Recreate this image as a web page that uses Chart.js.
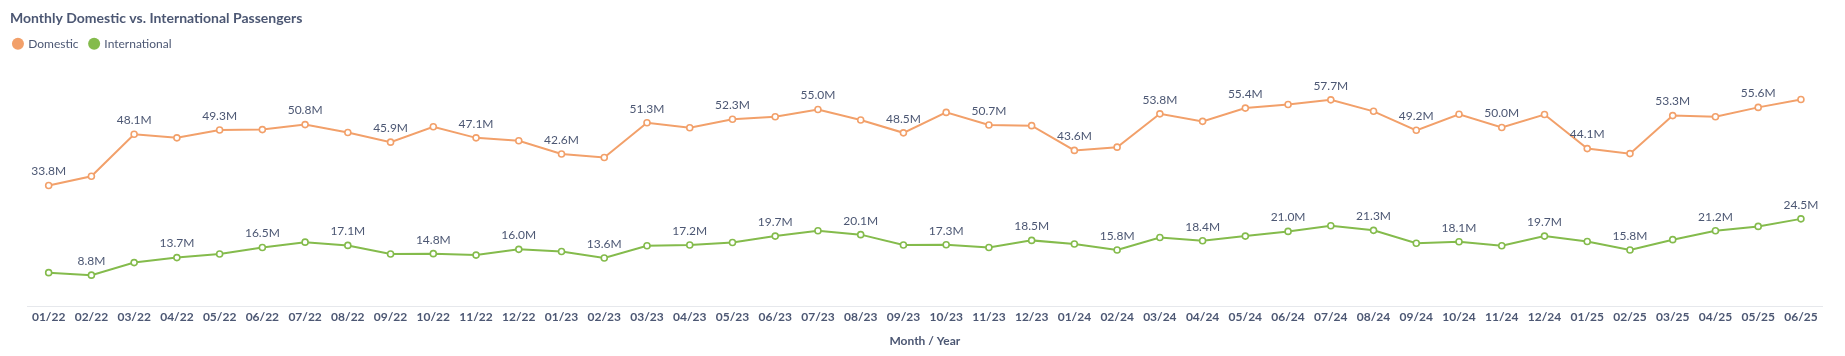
<!DOCTYPE html>
<html>
<head>
<meta charset="utf-8">
<script src="https://cdn.jsdelivr.net/npm/chart.js@4.4.1/dist/chart.umd.min.js"></script>
<style>
  html, body { margin: 0; padding: 0; background: #ffffff; }
  #wrap { position: relative; width: 1845px; height: 356px; }
</style>
</head>
<body>
<div id="wrap"><canvas id="c" width="1845" height="356"></canvas></div>
<script>
const months = ["01/22","02/22","03/22","04/22","05/22","06/22","07/22","08/22","09/22","10/22","11/22","12/22",
  "01/23","02/23","03/23","04/23","05/23","06/23","07/23","08/23","09/23","10/23","11/23","12/23",
  "01/24","02/24","03/24","04/24","05/24","06/24","07/24","08/24","09/24","10/24","11/24","12/24",
  "01/25","02/25","03/25","04/25","05/25","06/25"];

// Passengers in millions
const domestic = [33.8, 36.4, 48.1, 47.1, 49.3, 49.4, 50.8, 48.6, 45.9, 50.2, 47.1, 46.3,
  42.6, 41.6, 51.3, 49.9, 52.3, 53.0, 55.0, 52.1, 48.5, 54.2, 50.7, 50.5,
  43.6, 44.5, 53.8, 51.7, 55.4, 56.4, 57.7, 54.5, 49.2, 53.7, 50.0, 53.6,
  44.1, 42.7, 53.3, 53.0, 55.6, 57.8];

const international = [9.5, 8.8, 12.3, 13.7, 14.7, 16.5, 18.0, 17.1, 14.7, 14.8, 14.4, 16.0,
  15.4, 13.6, 17.0, 17.2, 17.9, 19.7, 21.2, 20.1, 17.2, 17.3, 16.5, 18.5,
  17.5, 15.8, 19.3, 18.4, 19.7, 21.0, 22.6, 21.3, 17.7, 18.1, 17.0, 19.7,
  18.2, 15.8, 18.7, 21.2, 22.4, 24.5];

// Which points carry a value label: domestic on even months, international on odd
const labelParity = [0, 1];

const ORANGE = '#F2A06A';
const GREEN = '#84BB4C';
const TEXT = '#4C5773';
const FONT = 'Lato, "Noto Sans", sans-serif';

const valueLabels = {
  id: 'valueLabels',
  afterDatasetsDraw(chart) {
    const ctx = chart.ctx;
    ctx.save();
    ctx.font = '12px ' + FONT;
    ctx.fillStyle = TEXT;
    ctx.textAlign = 'center';
    ctx.textBaseline = 'middle';
    chart.data.datasets.forEach((ds, di) => {
      const meta = chart.getDatasetMeta(di);
      meta.data.forEach((pt, i) => {
        if (i % 2 !== labelParity[di]) return;
        ctx.fillText(ds.data[i].toFixed(1) + 'M', pt.x, pt.y - 14);
      });
    });
    ctx.restore();
  }
};

const shiftLegend = {
  id: 'shiftLegend',
  afterLayout(chart) {
    if (chart.legend) chart.legend.left -= 7.6;
  }
};

new Chart(document.getElementById('c'), {
  type: 'line',
  data: {
    labels: months,
    datasets: [
      {
        label: 'Domestic',
        data: domestic,
        borderColor: ORANGE,
        backgroundColor: ORANGE,
        borderWidth: 2,
        pointRadius: 3,
        pointBorderWidth: 1.6,
        pointBackgroundColor: '#ffffff',
        pointBorderColor: ORANGE,
        tension: 0
      },
      {
        label: 'International',
        data: international,
        borderColor: GREEN,
        backgroundColor: GREEN,
        borderWidth: 2,
        pointRadius: 3,
        pointBorderWidth: 1.6,
        pointBackgroundColor: '#ffffff',
        pointBorderColor: GREEN,
        tension: 0
      }
    ]
  },
  options: {
    responsive: false,
    animation: false,
    devicePixelRatio: 1,
    layout: { padding: { left: 10, right: 22.7, top: 0, bottom: 8 } },
    plugins: {
      title: {
        display: true,
        text: 'Monthly Domestic vs. International Passengers',
        align: 'start',
        color: TEXT,
        font: { family: FONT, size: 14, weight: 'bold', lineHeight: 1.2 },
        padding: { top: 9.6, bottom: 0 }
      },
      legend: {
        display: true,
        position: 'top',
        align: 'start',
        labels: {
          usePointStyle: true,
          pointStyle: 'circle',
          boxWidth: 8.5,
          boxHeight: 8.5,
          padding: 11.3,
          color: TEXT,
          font: { family: FONT, size: 12 },
          generateLabels(chart) {
            return chart.data.datasets.map((ds, i) => ({
              text: ds.label,
              fillStyle: ds.borderColor,
              strokeStyle: ds.borderColor,
              lineWidth: 0,
              pointStyle: 'circle',
              fontColor: TEXT,
              hidden: false,
              datasetIndex: i
            }));
          }
        }
      },
      tooltip: { enabled: false }
    },
    scales: {
      x: {
        offset: true,
        grid: { display: false, drawTicks: false },
        border: { display: true, color: '#E6E8EC', width: 1 },
        ticks: {
          autoSkip: false,
          maxRotation: 0,
          padding: 3.5,
          color: TEXT,
          font: { family: FONT, size: 12, weight: 'bold' }
        },
        title: {
          display: true,
          text: 'Month / Year',
          color: TEXT,
          font: { family: FONT, size: 12, weight: 'bold' },
          padding: { top: 5.5, bottom: 0 }
        }
      },
      y: {
        display: true,
        min: 0,
        max: 68.9,
        grid: { display: false },
        border: { display: false },
        ticks: { display: false },
        afterFit(scale) { scale.width = 17.3; }
      }
    }
  },
  plugins: [valueLabels, shiftLegend]
});
</script>
</body>
</html>
